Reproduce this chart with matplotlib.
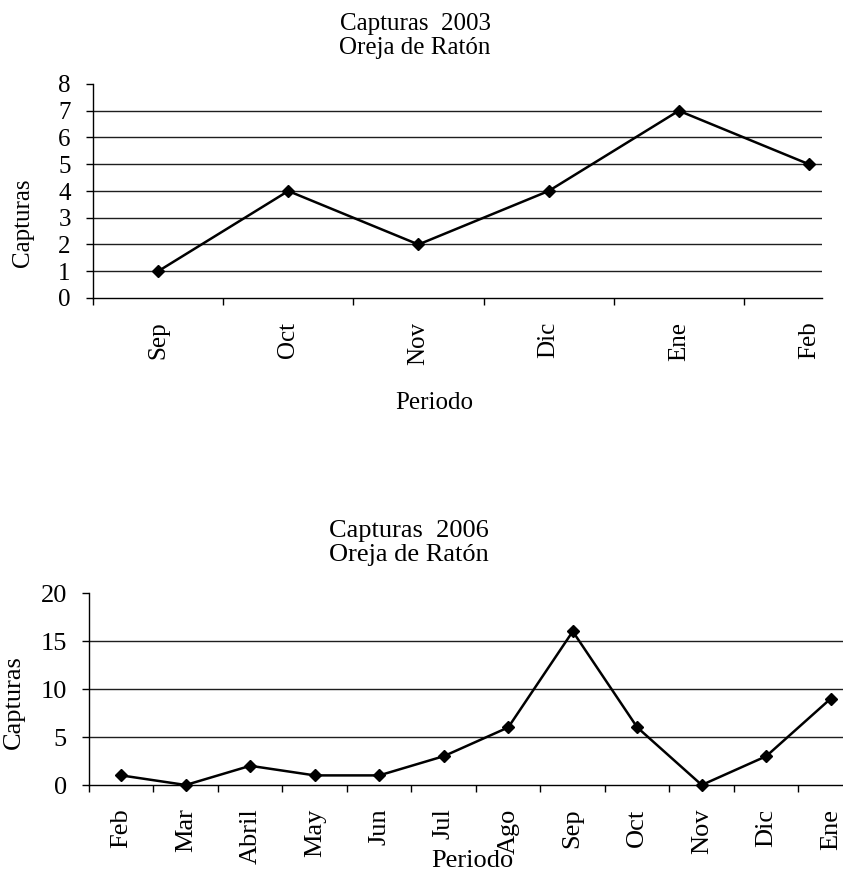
import matplotlib
matplotlib.use("Agg")
import matplotlib.pyplot as plt
from matplotlib.transforms import Bbox, TransformedBbox
import numpy as np

# ---- data ----
months_2003 = ["Sep", "Oct", "Nov", "Dic", "Ene", "Feb"]
capturas_2003 = [1, 4, 2, 4, 7, 5]

months_2006 = ["Feb", "Mar", "Abril", "May", "Jun", "Jul", "Ago", "Sep",
               "Oct", "Nov", "Dic", "Ene"]
capturas_2006 = [1, 0, 2, 1, 1, 3, 6, 16, 6, 0, 3, 9]

title_2003 = "Capturas  2003\nOreja de Ratón"
title_2006 = "Capturas  2006\nOreja de Ratón"

plt.rcParams['font.family'] = ['Liberation Serif', 'DejaVu Serif']

W, H = 843, 872
fig = plt.figure(figsize=(W / 100, H / 100), dpi=100)


def fx(px):
    return px / W


def fy(py):
    return 1 - py / H


def make_chart(left, right, top, bottom, cats, vals, ymax, ystep, xmax,
               fs, title, title_x, title_top, lsp, ylab_xy, xlab_xy):
    ax = fig.add_axes([fx(left), fy(bottom), fx(right - left),
                       (bottom - top) / H])
    x = np.arange(len(cats))
    ax.plot(x, vals, color='black', lw=1.8, marker='D', ms=6,
            mfc='black', mec='black', zorder=3, clip_on=False)
    ax.set_xlim(-0.5, xmax)
    ax.set_ylim(0, ymax)
    yt = np.arange(0, ymax + ystep / 2, ystep)
    ax.set_yticks(yt)
    ax.set_yticklabels([str(int(v)) for v in yt], fontsize=fs)
    for v in yt[1:-1]:
        ax.axhline(v, color='#1e1e1e', lw=1.0, zorder=1)
    ax.set_xticks(x)
    ax.set_xticklabels(cats, rotation=90, fontsize=fs)
    bounds = np.arange(-0.5, xmax + 1e-9, 1.0)
    ax.set_xticks(bounds, minor=True)
    ax.tick_params(axis='x', which='major', length=0, pad=17)
    ax.tick_params(axis='x', which='minor', length=5, width=1.0,
                   direction='out', color='black')
    ax.tick_params(axis='y', which='major', length=5, width=1.0,
                   direction='out', pad=11, color='black')
    for s in ['top', 'right']:
        ax.spines[s].set_visible(False)
    for s in ['left', 'bottom']:
        ax.spines[s].set_color('black')
        ax.spines[s].set_linewidth(1.0)
    ax.set_ylabel("Capturas", fontsize=fs)
    ax.yaxis.set_label_coords(*ylab_xy)
    ax.set_xlabel("Periodo", fontsize=fs)
    ax.xaxis.set_label_coords(*xlab_xy)
    fig.text(fx(title_x), fy(title_top), title, ha='center', va='top',
             fontsize=fs, linespacing=lsp)
    return ax


ax1 = make_chart(93, 822, 84, 298, months_2003, capturas_2003, 8, 1, 5.1,
                 18, title_2003, 415, 13, 1.12,
                 (-0.081, 0.35), (0.468, -0.44))
ax2 = make_chart(89, 843, 593, 785, months_2006, capturas_2006, 20, 5, 11.19,
                 19, title_2006, 409, 520, 1.14,
                 (-0.085, 0.432), (0.508, -0.339))

# clip the top x-label like the reference crop
lab = ax1.xaxis.label
lab.set_clip_on(True)
lab.set_clip_box(TransformedBbox(Bbox([[0, fy(409)], [1, 1]]), fig.transFigure))

fig.savefig("out.png", dpi=100)
